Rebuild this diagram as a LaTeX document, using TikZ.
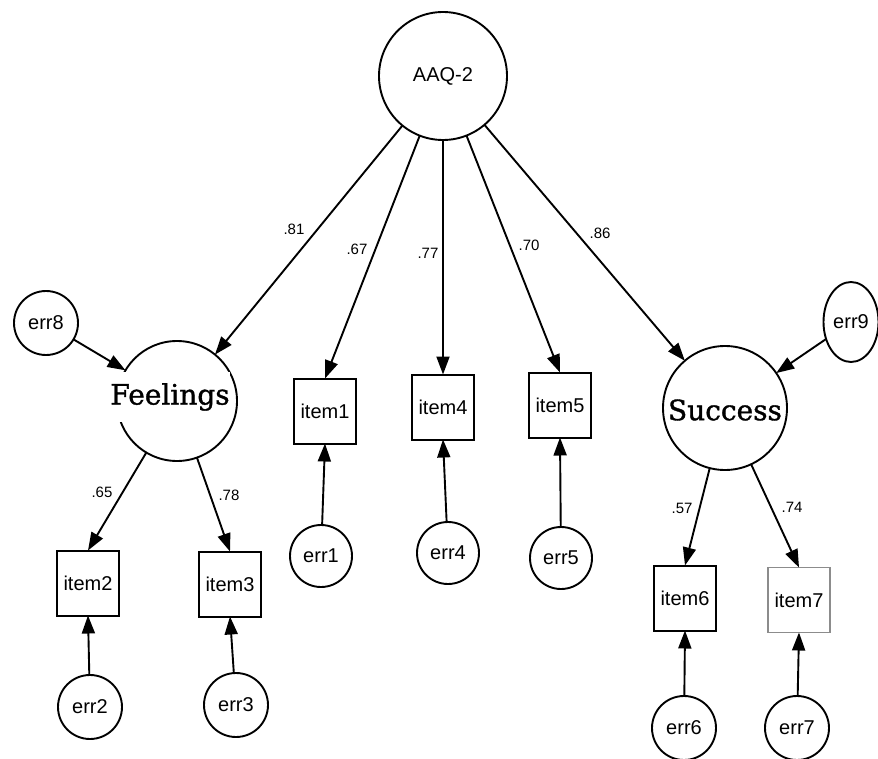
\documentclass[tikz,border=0pt]{standalone}
\usepackage{fontspec}
\setmainfont{Liberation Sans}
\newfontfamily\slabfont[FakeBold=1.2]{DejaVu Serif}
\usetikzlibrary{arrows.meta,shapes.geometric}
\tikzset{
  x=1pt,y=-1pt,
  every node/.style={inner sep=0pt,outer sep=0pt},
  conn/.style={line width=1.9pt,-{Triangle[length=18pt,width=13pt]}},
  latent/.style={draw,line width=1.9pt,circle},
  errc/.style={draw,line width=1.9pt,circle,minimum size=62pt,font=\fontsize{20}{20}\selectfont},
  obs/.style={draw,line width=2pt,rectangle,minimum width=62pt,minimum height=65pt,font=\fontsize{20}{20}\selectfont},
  coef/.style={font=\fontsize{15}{15}\selectfont},
  ftext/.style={fill=white,font=\slabfont\fontsize{28}{28}\selectfont}
}
\begin{document}
\begin{tikzpicture}
\useasboundingbox (0,0) rectangle (878,759);
% latent variables
\node[latent,minimum size=128pt,font=\fontsize{20}{20}\selectfont] (aaq) at (443,76) {AAQ-2};
\node[latent,minimum size=120pt] (feel) at (177,401) {};
\node[ftext,minimum height=50pt] (feeltext) at (170,397) {Feelings};
\node[latent,minimum size=124pt] (succ) at (725,408) {};
\node[ftext,minimum height=34pt] (succtext) at (725,410) {Success};
% error terms of latents
\node[errc,minimum size=64pt] (err8) at (46,323) {err8};
\node[draw,line width=1.9pt,ellipse,minimum width=55pt,minimum height=80pt,font=\fontsize{20}{20}\selectfont] (err9) at (851,322) {err9};
% observed items
\node[obs] (item1) at (325,411) {item1};
\node[obs] (item4) at (443,407) {item4};
\node[obs] (item5) at (560,405) {item5};
\node[obs] (item2) at (88,583) {item2};
\node[obs] (item3) at (230,584) {item3};
\node[obs] (item6) at (685,598) {item6};
\node[obs,draw=black!45,line width=1.2pt] (item7) at (799,600) {item7};
% errors of items
\node[errc] (err1) at (321,556) {err1};
\node[errc] (err4) at (448,553) {err4};
\node[errc] (err5) at (561,558) {err5};
\node[errc,minimum size=64pt] (err2) at (90,707) {err2};
\node[errc,minimum size=64pt] (err3) at (236,705) {err3};
\node[errc,minimum size=64pt] (err6) at (684,728) {err6};
\node[errc,minimum size=64pt] (err7) at (797,728) {err7};
% paths
\draw[conn] (aaq) -- (feel);
\draw[conn] (aaq) -- (item1.north);
\draw[conn] (aaq) -- (item4.north);
\draw[conn] (aaq) -- (item5.north);
\draw[conn] (aaq) -- (succ);
\draw[conn] (err8) -- (feel);
\draw[conn] (err9) -- (succ);
\draw[conn] (feel) -- (item2.north);
\draw[conn] (feel) -- (item3.north);
\draw[conn] (succ) -- (item6.north);
\draw[conn] (succ) -- (item7.north);
\draw[conn] (err1) -- (item1.south);
\draw[conn] (err4) -- (item4.south);
\draw[conn] (err5) -- (item5.south);
\draw[conn] (err2) -- (item2.south);
\draw[conn] (err3) -- (item3.south);
\draw[conn] (err6) -- (item6.south);
\draw[conn] (err7) -- (item7.south);
% coefficients
\node[coef] (c81) at (294,229) {.81};
\node[coef] (c67) at (357,249) {.67};
\node[coef] (c77) at (428,253) {.77};
\node[coef] (c70) at (529,245) {.70};
\node[coef] (c86) at (600,233) {.86};
\node[coef] (c65) at (102,492) {.65};
\node[coef] (c78) at (229,495) {.78};
\node[coef] (c57) at (682,508) {.57};
\node[coef] (c74) at (792,507) {.74};
\end{tikzpicture}
\end{document}
